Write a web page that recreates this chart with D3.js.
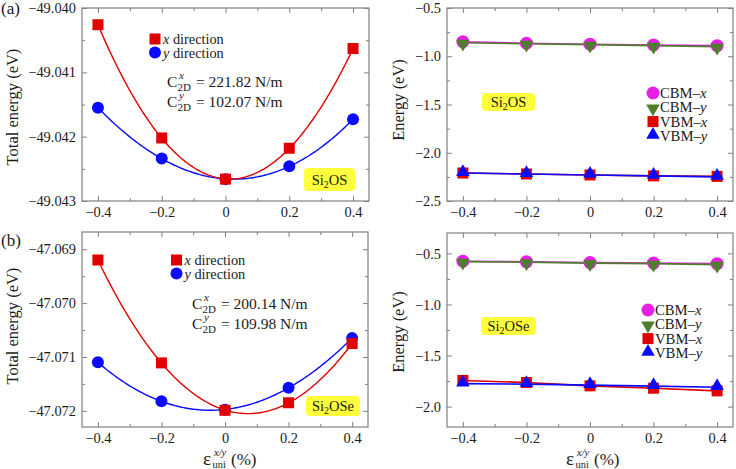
<!DOCTYPE html>
<html><head><meta charset="utf-8">
<script src="https://cdn.jsdelivr.net/npm/d3@7"></script>
<style>
body{margin:0;background:#fff}
svg{display:block}
</style>
</head><body><svg id="c" width="736" height="469"></svg>
<script>
// ---------- data ----------
const strain = [-0.4, -0.2, 0, 0.2, 0.4];
const xTicks = [-0.4, -0.2, 0, 0.2, 0.4];
const xMinor = [-0.3, -0.1, 0.1, 0.3];

const eSi2OS_x  = [-49.04026, -49.04202, -49.04266, -49.04218, -49.04063];
const eSi2OS_y  = [-49.04155, -49.04234, -49.04266, -49.04246, -49.04173];
const eSi2OSe_x = [-47.06920, -47.07111, -47.07199, -47.07185, -47.07075];
const eSi2OSe_y = [-47.07110, -47.07182, -47.07198, -47.07157, -47.07065];

const si2os_CBMx  = [-0.850, -0.865, -0.875, -0.883, -0.890];
const si2os_CBMy  = [-0.860, -0.870, -0.880, -0.890, -0.900];
const si2os_VBMx  = [-2.210, -2.220, -2.230, -2.240, -2.245];
const si2os_VBMy  = [-2.210, -2.220, -2.230, -2.240, -2.250];
const si2ose_CBMx = [-0.576, -0.582, -0.590, -0.595, -0.600];
const si2ose_CBMy = [-0.580, -0.585, -0.595, -0.600, -0.610];
const si2ose_VBMx = [-1.744, -1.764, -1.797, -1.820, -1.846];
const si2ose_VBMy = [-1.775, -1.780, -1.790, -1.800, -1.810];

const yTicksA = [-49.043, -49.042, -49.041, -49.040];
const yMinorA = [-49.0425, -49.0415, -49.0405];
const yTicksB = [-47.072, -47.071, -47.070, -47.069];
const yMinorB = [-47.0715, -47.0705, -47.0695];
const yTicksC = [-2.5, -2.0, -1.5, -1.0, -0.5];
const yMinorC = [-2.25, -1.75, -1.25, -0.75];
const yTicksD = [-2.0, -1.5, -1.0, -0.5];
const yMinorD = [-1.75, -1.25, -0.75];

const cx_Si2OS = "221.82", cy_Si2OS = "102.07";
const cx_Si2OSe = "200.14", cy_Si2OSe = "109.98";

// ---------- helpers ----------
const FF = '"Liberation Serif", "Times New Roman", serif';
const RED = "#e00000", BLUE = "#0a0aff", MAG = "#e61ee6", GRN = "#4c7f2a";
const FRAME = "#808080";
const svg = d3.select("#c");
const fmtX = d => d === 0 ? "0" : d3.format(".1f")(d);

function polyfit(xs, ys, deg) {
  const m = d3.mean(ys);
  const n = deg + 1;
  const A = Array.from({length: n}, () => new Array(n + 1).fill(0));
  xs.forEach((x, k) => {
    for (let i = 0; i < n; i++) {
      for (let j = 0; j < n; j++) A[i][j] += Math.pow(x, i + j);
      A[i][n] += Math.pow(x, i) * (ys[k] - m);
    }
  });
  for (let i = 0; i < n; i++) {
    let p = i;
    for (let r = i + 1; r < n; r++) if (Math.abs(A[r][i]) > Math.abs(A[p][i])) p = r;
    [A[i], A[p]] = [A[p], A[i]];
    for (let r = 0; r < n; r++) {
      if (r === i) continue;
      const f = A[r][i] / A[i][i];
      for (let c = i; c <= n; c++) A[r][c] -= f * A[i][c];
    }
  }
  const coef = A.map((row, i) => row[n] / row[i]);
  return x => m + coef.reduce((s, c, i) => s + c * Math.pow(x, i), 0);
}

function panel(o) {
  const g = svg.append("g");
  const x = d3.scaleLinear().domain([-0.45, 0.45]).range([o.l, o.r]);
  const y = d3.scaleLinear().domain(o.yDomain).range([o.b, o.t]);
  const axes = g.append("g").attr("class", "axes");
  const ax = (sel, axis) => {
    const a = axes.append("g").attr("transform", sel).call(axis);
    a.select(".domain").remove();
    a.attr("font-family", FF).attr("font-size", 14.4);
    a.selectAll("line").attr("stroke", FRAME);
    a.selectAll("text").attr("fill", "#1a1a1a");
    return a;
  };
  ax(`translate(0,${o.b})`, d3.axisBottom(x).tickValues(xTicks).tickSize(-5).tickPadding(6).tickFormat(fmtX));
  ax(`translate(0,${o.b})`, d3.axisBottom(x).tickValues(xMinor).tickSize(-3).tickFormat(""));
  ax(`translate(0,${o.t})`, d3.axisTop(x).tickValues(xTicks).tickSize(-5).tickFormat(""));
  ax(`translate(0,${o.t})`, d3.axisTop(x).tickValues(xMinor).tickSize(-3).tickFormat(""));
  ax(`translate(${o.l},0)`, d3.axisLeft(y).tickValues(o.yTicks).tickSize(-5).tickPadding(6).tickFormat(d3.format(o.yFmt)));
  ax(`translate(${o.l},0)`, d3.axisLeft(y).tickValues(o.yMinor).tickSize(-3).tickFormat(""));
  ax(`translate(${o.r},0)`, d3.axisRight(y).tickValues(o.yTicks).tickSize(-5).tickFormat(""));
  ax(`translate(${o.r},0)`, d3.axisRight(y).tickValues(o.yMinor).tickSize(-3).tickFormat(""));
  g.append("rect").attr("x", o.l).attr("y", o.t).attr("width", o.r - o.l).attr("height", o.b - o.t)
    .attr("fill", "none").attr("stroke", FRAME).attr("stroke-width", 1.2);
  g.append("text").attr("transform", `translate(${o.ylx},${o.ylc}) rotate(-90)`)
    .attr("text-anchor", "middle").attr("dominant-baseline", "central").attr("font-size", 16.5).text(o.ylabel);
  return {g, x, y};
}

function xLabel(cx, base) {
  const x0 = cx - 25;
  const t = svg.append("text").attr("x", x0).attr("y", base).attr("font-size", 19);
  t.append("tspan").text("ε");
  t.append("tspan").attr("x", x0 + 9.5).attr("dy", 3).attr("font-size", 10.5).text("uni");
  t.append("tspan").attr("x", x0 + 11).attr("dy", -12).attr("font-size", 10.5).attr("font-style", "italic").text("x/y");
  t.append("tspan").attr("x", x0 + 28).attr("dy", 9).attr("font-size", 17).text("(%)");
}

function tag(g, x0, y0, w, h, sub) {
  g.append("rect").attr("x", x0).attr("y", y0).attr("width", w).attr("height", h).attr("rx", 4)
    .attr("fill", "#ffff3c");
  const t = g.append("text").attr("x", x0 + w / 2).attr("y", y0 + h / 2 + 5).attr("text-anchor", "middle")
    .attr("font-size", 14.5);
  t.append("tspan").text("Si");
  t.append("tspan").attr("font-size", 10).attr("dy", 3).text("2");
  t.append("tspan").attr("dy", -3).text(sub);
}

function c2d(g, x0, base, dir, val) {
  const t = g.append("text").attr("x", x0).attr("y", base).attr("font-size", 15.5);
  t.append("tspan").text("C");
  t.append("tspan").attr("x", x0 + 10.5).attr("dy", 4).attr("font-size", 11).text("2D");
  t.append("tspan").attr("x", x0 + 12).attr("dy", -12).attr("font-size", 11).attr("font-style", "italic").text(dir);
  t.append("tspan").attr("x", x0 + 29).attr("dy", 8).text(`= ${val} N/m`);
}

function energyPanel(o, ex, ey, cxv, cyv, leg, cpos, tagpos, sub) {
  const p = panel(o);
  const fx = polyfit(strain, ex, 3), fy = polyfit(strain, ey, 3);
  const xs = d3.range(-0.4, 0.4001, 0.005);
  const line = f => d3.line().x(d => p.x(d)).y(d => p.y(f(d)))(xs);
  p.g.append("path").attr("d", line(fy)).attr("fill", "none").attr("stroke", BLUE).attr("stroke-width", 1.4);
  p.g.append("path").attr("d", line(fx)).attr("fill", "none").attr("stroke", RED).attr("stroke-width", 1.4);
  p.g.selectAll(".cy").data(strain).join("circle").attr("cx", (d) => p.x(d)).attr("cy", (d, i) => p.y(ey[i]))
    .attr("r", 6).attr("fill", BLUE);
  p.g.selectAll(".sx").data(strain).join("rect").attr("x", d => p.x(d) - 5.5).attr("y", (d, i) => p.y(ex[i]) - 5.5)
    .attr("width", 11).attr("height", 11).attr("fill", RED);
  p.g.append("rect").attr("x", leg[0] - 5.5).attr("y", leg[1] - 5.5).attr("width", 11).attr("height", 11).attr("fill", RED);
  p.g.append("circle").attr("cx", leg[0]).attr("cy", leg[1] + 13.5).attr("r", 6).attr("fill", BLUE);
  const t1 = p.g.append("text").attr("x", leg[0] + 8).attr("y", leg[1] + 5).attr("font-size", 14.3);
  t1.append("tspan").attr("font-style", "italic").text("x");
  t1.append("tspan").text(" direction");
  const t2 = p.g.append("text").attr("x", leg[0] + 8).attr("y", leg[1] + 18.5).attr("font-size", 14.3);
  t2.append("tspan").attr("font-style", "italic").text("y");
  t2.append("tspan").text(" direction");
  c2d(p.g, cpos[0], cpos[1], "x", cxv);
  c2d(p.g, cpos[0], cpos[1] + 20, "y", cyv);
  tag(p.g, tagpos[0], tagpos[1], tagpos[2], tagpos[3], sub);
}

function bandPanel(o, cbx, cby, vbx, vby, leg, tagpos, sub) {
  const p = panel(o);
  const ln = arr => d3.line().x(d => p.x(d)).y((d, i) => p.y(arr[i]))(strain);
  [[cbx, MAG], [cby, GRN], [vbx, RED], [vby, BLUE]].forEach(([a, c]) =>
    p.g.append("path").attr("d", ln(a)).attr("fill", "none").attr("stroke", c).attr("stroke-width", 1.6));
  const tri = d3.symbol().type(d3.symbolTriangle).size(80);
  function drawMarker(g, cx, cy, kind) {
    if (kind === "c") g.append("circle").attr("cx", cx).attr("cy", cy).attr("r", 6.5).attr("fill", MAG);
    if (kind === "d") g.append("path").attr("d", tri()).attr("transform", `translate(${cx},${cy + 1}) rotate(180)`).attr("fill", GRN);
    if (kind === "s") g.append("rect").attr("x", cx - 5.5).attr("y", cy - 5.5).attr("width", 11).attr("height", 11).attr("fill", RED);
    if (kind === "u") g.append("path").attr("d", tri()).attr("transform", `translate(${cx},${cy - 1})`).attr("fill", BLUE);
  }
  const drawSet = (arr, kind) => strain.forEach((s, i) => drawMarker(p.g, p.x(s), p.y(arr[i]), kind));
  drawSet(cbx, "c"); drawSet(cby, "d"); drawSet(vbx, "s"); drawSet(vby, "u");
  const labels = [["CBM–", "x", "c"], ["CBM–", "y", "d"], ["VBM–", "x", "s"], ["VBM–", "y", "u"]];
  labels.forEach(([a, b, k], i) => {
    const yy = leg[1] + i * 14.3;
    drawMarker(p.g, leg[0], yy, k);
    const t = p.g.append("text").attr("x", leg[0] + 7).attr("y", yy + 5).attr("font-size", 14.7);
    t.append("tspan").text(a);
    t.append("tspan").attr("font-style", "italic").text(b);
  });
  tag(p.g, tagpos[0], tagpos[1], tagpos[2], tagpos[3], sub);
}

// ---------- panels ----------
energyPanel({l: 82, r: 369, t: 8, b: 201, yDomain: [-49.043, -49.040], yTicks: yTicksA, yMinor: yMinorA,
  yFmt: ".3f", ylabel: "Total energy (eV)", ylx: 12, ylc: 107},
  eSi2OS_x, eSi2OS_y, cx_Si2OS, cy_Si2OS, [155, 39], [167, 87], [304, 168, 51, 23], "OS");

energyPanel({l: 82, r: 368, t: 232, b: 427, yDomain: [-47.0723, -47.06868], yTicks: yTicksB, yMinor: yMinorB,
  yFmt: ".3f", ylabel: "Total energy (eV)", ylx: 12, ylc: 326},
  eSi2OSe_x, eSi2OSe_y, cx_Si2OSe, cy_Si2OSe, [176.5, 260], [192, 309], [306, 396, 54, 20], "OSe");

bandPanel({l: 447, r: 733, t: 8, b: 201, yDomain: [-2.5, -0.5], yTicks: yTicksC, yMinor: yMinorC,
  yFmt: ".1f", ylabel: "Energy (eV)", ylx: 398, ylc: 100},
  si2os_CBMx, si2os_CBMy, si2os_VBMx, si2os_VBMy, [653, 93], [482, 93, 53, 18], "OS");

bandPanel({l: 447, r: 733, t: 233, b: 427, yDomain: [-2.2, -0.3], yTicks: yTicksD, yMinor: yMinorD,
  yFmt: ".1f", ylabel: "Energy (eV)", ylx: 398, ylc: 332},
  si2ose_CBMx, si2ose_CBMy, si2ose_VBMx, si2ose_VBMy, [648, 310], [481, 317, 55, 18], "OSe");

svg.append("text").attr("x", 1).attr("y", 14).attr("font-size", 17).text("(a)");
svg.append("text").attr("x", 1).attr("y", 246).attr("font-size", 17).text("(b)");
xLabel(228, 465);
xLabel(591, 465);

svg.selectAll("text").style("font-family", FF).attr("fill", "#1a1a1a");
</script>
</body></html>
